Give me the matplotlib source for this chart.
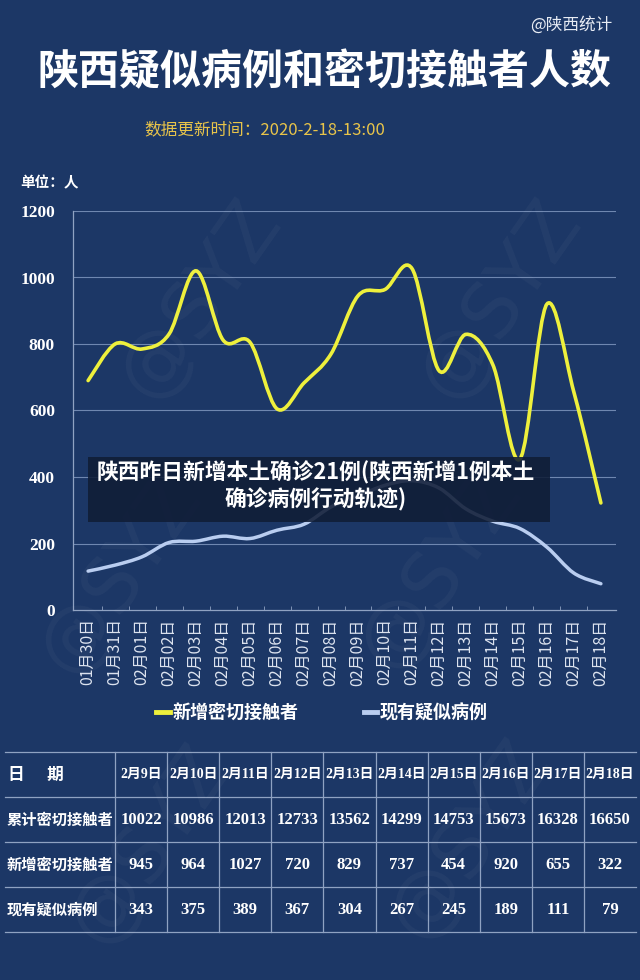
import numpy as np
import matplotlib
matplotlib.use('Agg')
import matplotlib.pyplot as plt
from matplotlib.path import Path
from matplotlib.patches import PathPatch, Rectangle
from matplotlib.lines import Line2D

# chart data
dates = ['01月30日', '01月31日', '02月01日', '02月02日', '02月03日', '02月04日',
         '02月05日', '02月06日', '02月07日', '02月08日', '02月09日', '02月10日',
         '02月11日', '02月12日', '02月13日', '02月14日', '02月15日', '02月16日',
         '02月17日', '02月18日']
new_contacts = [690, 800, 785, 830, 1020, 812, 805, 605, 683, 770,
                945, 964, 1027, 720, 829, 737, 454, 920, 655, 322]
suspected = [117, 135, 160, 203, 207, 222, 215, 240, 258, 310,
             343, 375, 389, 367, 304, 267, 245, 189, 111, 79]
yticks = [0, 200, 400, 600, 800, 1000, 1200]

# table data
table_dates = ['2月9日', '2月10日', '2月11日', '2月12日', '2月13日',
               '2月14日', '2月15日', '2月16日', '2月17日', '2月18日']
cum_contacts = [10022, 10986, 12013, 12733, 13562, 14299, 14753, 15673, 16328, 16650]
row_labels = ['累计密切接触者', '新增密切接触者', '现有疑似病例']

BG = '#1c3766'
YEL = '#eef03c'
BLU = '#b9cdf0'
CJK = ['Noto Sans CJK SC', 'DejaVu Sans']
SERIF = ['Liberation Serif', 'Noto Sans CJK SC']


def fx(px):
    return px / 640.0


def fy(py):
    return 1 - py / 980.0


def smooth_path(xs, ys):
    # catmull-rom through the points, as cubic bezier pieces
    pts = np.column_stack([xs, ys]).astype(float)
    p = np.vstack([pts[0], pts, pts[-1]])
    verts = [pts[0]]
    codes = [Path.MOVETO]
    for i in range(len(pts) - 1):
        p0, p1, p2, p3 = p[i], p[i + 1], p[i + 2], p[i + 3]
        verts += [p1 + (p2 - p0) / 6, p2 - (p3 - p1) / 6, p2]
        codes += [Path.CURVE4] * 3
    return Path(verts, codes)


fig = plt.figure(figsize=(6.4, 9.8), dpi=100)
fig.patch.set_facecolor(BG)

# header
fig.text(fx(612), fy(25), '@陕西统计', ha='right', va='center', fontsize=12,
         color='#e8ecf4', family=CJK)
fig.text(fx(324), fy(72), '陕西疑似病例和密切接触者人数', ha='center', va='center',
         fontsize=29.5, weight='bold', color='white', family=CJK)
fig.text(fx(265), fy(130), '数据更新时间：2020-2-18-13:00', ha='center', va='center',
         fontsize=12, color='#e8c44a', family=CJK)
fig.text(fx(20), fy(182), '单位：人', ha='left', va='center', fontsize=10.5,
         weight='bold', color='white', family=CJK)

# line chart
ax = fig.add_axes([fx(73), fy(610), fx(616) - fx(73), fy(211) - fy(610)])
ax.set_facecolor('none')
x = np.arange(len(dates))
ax.add_patch(PathPatch(smooth_path(x, new_contacts), fill=False, edgecolor=YEL,
                       lw=2.6, capstyle='round', zorder=4))
ax.add_patch(PathPatch(smooth_path(x, suspected), fill=False, edgecolor=BLU,
                       lw=2.5, capstyle='round', zorder=4))
ax.set_xlim(-0.56, 19.56)
ax.set_ylim(0, 1200)
ax.set_yticks(yticks)
ax.set_yticklabels([str(v) for v in yticks], family=SERIF, weight='bold',
                   fontsize=12.5, color='white')
ax.tick_params(axis='y', length=0, pad=13)
ax.set_xticks(x)
ax.set_xticklabels(dates, rotation=90, family=CJK, fontsize=11.5, color='#dde4f0')
ax.set_xticks(x[:-1] + 0.5, minor=True)
ax.tick_params(axis='x', which='major', length=0, pad=6)
ax.tick_params(axis='x', which='minor', length=3, color='#8fa2c2', direction='in')
for v in yticks[1:]:
    ax.axhline(v, color='#6f87b0', lw=0.8, zorder=1)
for s in ['top', 'right']:
    ax.spines[s].set_visible(False)
for s in ['left', 'bottom']:
    ax.spines[s].set_color('#8fa2c2')
    ax.spines[s].set_linewidth(0.9)

# legend
handles = [Line2D([], [], color=YEL, lw=3.5), Line2D([], [], color=BLU, lw=3.5)]
fig.legend(handles, ['新增密切接触者', '现有疑似病例'], loc='center',
           bbox_to_anchor=(fx(322), fy(713)), ncol=2, frameon=False,
           handlelength=0.75, handletextpad=0.15, columnspacing=3.6,
           prop={'family': CJK, 'weight': 'bold', 'size': 13}, labelcolor='white')

# watermarks
for (wx, wy) in [(200, 300), (500, 300), (120, 575), (440, 570), (150, 845), (470, 840)]:
    fig.text(fx(wx), fy(wy), '@SYZ', ha='center', va='center', rotation=55,
             fontsize=55, color='white', alpha=0.035, family='DejaVu Sans')

# banner overlay
fig.patches.append(Rectangle((fx(88), fy(522)), fx(550) - fx(88), fy(457) - fy(522),
                             transform=fig.transFigure, facecolor='#101d36',
                             alpha=0.88, edgecolor='none', zorder=5))
fig.text(fx(316), fy(473), '陕西昨日新增本土确诊21例(陕西新增1例本土', ha='center',
         va='center', fontsize=15.7, weight='bold', color='white', family=CJK, zorder=6)
fig.text(fx(316), fy(500), '确诊病例行动轨迹)', ha='center', va='center',
         fontsize=15.7, weight='bold', color='white', family=CJK, zorder=6)

# table
tax = fig.add_axes([0, 0, 1, 1], zorder=2)
tax.set_xlim(0, 640)
tax.set_ylim(980, 0)
tax.axis('off')
row_y = [752, 797, 842, 887, 932]
col_x = [115 + 52.1 * i for i in range(11)]
for yy in row_y:
    tax.plot([5, 636], [yy, yy], color='#8fa2c2', lw=0.9)
for xx in col_x[:-1]:
    tax.plot([xx, xx], [row_y[0], row_y[-1]], color='#8fa2c2', lw=0.9)
centers = [(row_y[i] + row_y[i + 1]) / 2 for i in range(4)]
col_c = [(col_x[i] + col_x[i + 1]) / 2 for i in range(10)]
tax.text(8, centers[0], '日      期', ha='left', va='center', fontsize=12,
         weight='bold', color='white', family=CJK)
for i, lab in enumerate(row_labels):
    tax.text(7, centers[i + 1], lab, ha='left', va='center', fontsize=11,
             weight='bold', color='white', family=CJK)
rows = [cum_contacts, new_contacts[-10:], suspected[-10:]]
for j in range(10):
    tax.text(col_c[j], centers[0], table_dates[j], ha='center', va='center',
             fontsize=10, weight='bold', color='white', family=SERIF)
    for i, r in enumerate(rows):
        tax.text(col_c[j], centers[i + 1], str(r[j]), ha='center', va='center',
                 fontsize=12, weight='bold', color='white', family=SERIF)

fig.savefig('out.png', dpi=100, facecolor=BG)
